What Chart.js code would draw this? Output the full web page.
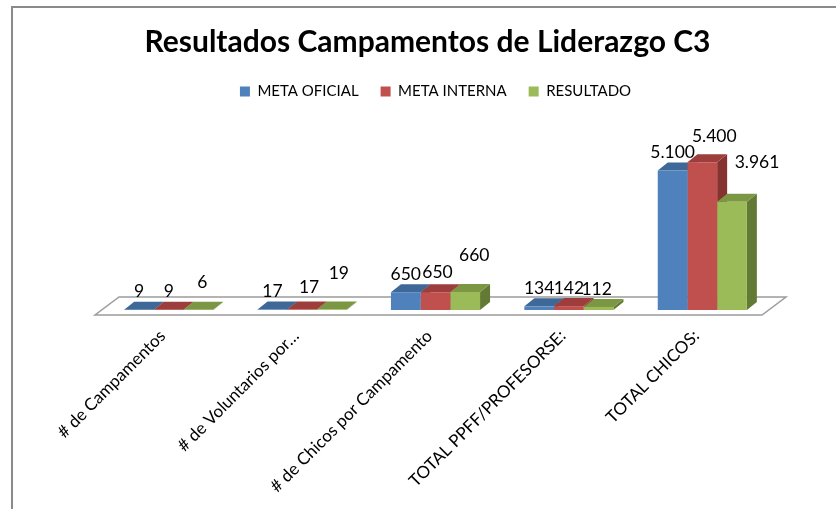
<!DOCTYPE html>
<html lang="es">
<head>
<meta charset="UTF-8">
<title>Resultados Campamentos de Liderazgo C3</title>
<script src="https://cdn.jsdelivr.net/npm/chart.js"></script>
<style>
  html, body { margin: 0; padding: 0; background: #fff; }
  .wrap { position: relative; width: 836px; height: 509px; }
</style>
</head>
<body>
<div class="wrap"><canvas id="liderazgoChart"></canvas></div>
<script>
// categorías y valores por serie
const categorias = ['# de Campamentos', '# de Voluntarios por\u2026', '# de Chicos por Campamento', 'TOTAL PPFF/PROFESORSE:', 'TOTAL CHICOS:'];
const metaOficial = [9, 17, 650, 134, 5100];
const metaInterna = [9, 17, 650, 142, 5400];
const resultado   = [6, 19, 660, 112, 3961];

// colores: frente, tapa, lateral
const colAzul  = ['#4F81BD', '#3D6898', '#385D8A'];
const colRojo  = ['#C0504D', '#9E3E3C', '#853230'];
const colVerde = ['#9BBB59', '#7B9743', '#637A34'];

// pequeños ajustes de posición de las etiquetas para que no se monten
const ajusteOficial   = [[0, 0], [0, 0], [0, 0], [0, 0], [0, 0]];
const ajusteInterna   = [[0, 0], [7, -4], [2, -2], [0, 0], [12, -8]];
const ajusteResultado = [[4, -9], [7, -18], [9, -19], [-2, 0], [25, -21]];

const FONDO_X = 10, FONDO_Y = -8;   // profundidad de cada barra
const FUENTE = 'Lato, "Open Sans", sans-serif';

function miles(v) {
    return String(v).replace(/\B(?=(\d{3})+(?!\d))/g, '.');
}

// marco del gráfico y título un poco a la izquierda del centro del área
const marco = {
    id: 'marco',
    afterLayout(chart) {
        if (chart.titleBlock) chart.titleBlock.left -= 16;
    },
    beforeDraw(chart) {
        const ctx = chart.ctx;
        ctx.save();
        ctx.strokeStyle = '#8a8a8a';
        ctx.lineWidth = 2;
        ctx.beginPath();
        ctx.moveTo(12, chart.height);
        ctx.lineTo(12, 7);
        ctx.lineTo(chart.width, 7);
        ctx.stroke();
        ctx.restore();
    }
};

// suelo y caras 3D (tapa y lateral); el frente lo dibuja Chart.js
const barras3d = {
    id: 'barras3d',
    beforeDatasetsDraw(chart) {
        const ctx = chart.ctx;
        const area = chart.chartArea;
        const y0 = chart.scales.y.getPixelForValue(0);

        ctx.save();
        ctx.fillStyle = '#fff';
        ctx.strokeStyle = '#9c9c9c';
        ctx.lineWidth = 1.5;
        ctx.beginPath();
        ctx.moveTo(area.left - 7, y0 + 5);
        ctx.lineTo(area.right - 7, y0 + 5);
        ctx.lineTo(area.right + 17, y0 - 13);
        ctx.lineTo(area.left + 17, y0 - 13);
        ctx.closePath();
        ctx.fill();
        ctx.stroke();

        const n = chart.data.labels.length;
        for (let i = 0; i < n; i++) {
            chart.data.datasets.forEach((ds, d) => {
                const bar = chart.getDatasetMeta(d).data[i];
                const p = bar.getProps(['x', 'y', 'base', 'width'], true);
                const l = p.x - p.width / 2, r = p.x + p.width / 2;
                // lateral
                ctx.fillStyle = ds.lateral;
                ctx.beginPath();
                ctx.moveTo(r, p.y);
                ctx.lineTo(r + FONDO_X, p.y + FONDO_Y);
                ctx.lineTo(r + FONDO_X, p.base + FONDO_Y);
                ctx.lineTo(r, p.base);
                ctx.closePath();
                ctx.fill();
                // tapa
                ctx.fillStyle = ds.tapa;
                ctx.beginPath();
                ctx.moveTo(l, p.y);
                ctx.lineTo(l + FONDO_X, p.y + FONDO_Y);
                ctx.lineTo(r + FONDO_X, p.y + FONDO_Y);
                ctx.lineTo(r, p.y);
                ctx.closePath();
                ctx.fill();
            });
        }
        ctx.restore();
    },
    afterDatasetsDraw(chart) {
        const ctx = chart.ctx;
        ctx.save();
        ctx.font = '17.5px ' + FUENTE;
        ctx.fillStyle = '#000';
        ctx.textAlign = 'center';
        ctx.textBaseline = 'middle';
        chart.data.datasets.forEach((ds, d) => {
            chart.getDatasetMeta(d).data.forEach((bar, i) => {
                const a = ds.ajuste[i];
                ctx.fillText(miles(ds.data[i]), bar.x + a[0], bar.y - 18 + a[1]);
            });
        });
        ctx.restore();
    }
};

function serie(nombre, datos, col, ajuste) {
    return {
        label: nombre,
        data: datos,
        backgroundColor: col[0],
        tapa: col[1],
        lateral: col[2],
        ajuste: ajuste,
        borderWidth: 0,
        categoryPercentage: 0.668,
        barPercentage: 1
    };
}

new Chart(document.getElementById('liderazgoChart'), {
    type: 'bar',
    data: {
        labels: categorias,
        datasets: [
            serie('META OFICIAL', metaOficial, colAzul, ajusteOficial),
            serie('META INTERNA', metaInterna, colRojo, ajusteInterna),
            serie('RESULTADO', resultado, colVerde, ajusteResultado)
        ]
    },
    options: {
        responsive: true,
        maintainAspectRatio: false,
        animation: false,
        layout: { padding: { top: 8, left: 102, right: 67, bottom: 0 } },
        scales: {
            x: {
                grid: { display: false },
                border: { display: false },
                ticks: {
                    maxRotation: 45,
                    minRotation: 45,
                    padding: 8,
                    labelOffset: -6,
                    color: '#000',
                    font: { family: FUENTE, size: 17 }
                },
                afterFit(scale) { scale.height = 199; }
            },
            y: {
                display: false,
                min: 0,
                max: 7350
            }
        },
        plugins: {
            title: {
                display: true,
                text: 'Resultados Campamentos de Liderazgo C3',
                color: '#000',
                font: { family: FUENTE, size: 30, weight: 'bold' },
                padding: { top: 16, bottom: 2 }
            },
            legend: {
                labels: {
                    boxWidth: 10,
                    boxHeight: 10,
                    padding: 22,
                    color: '#000',
                    font: { family: FUENTE, size: 15 }
                }
            },
            tooltip: { enabled: false }
        }
    },
    plugins: [marco, barras3d]
});
</script>
</body>
</html>
